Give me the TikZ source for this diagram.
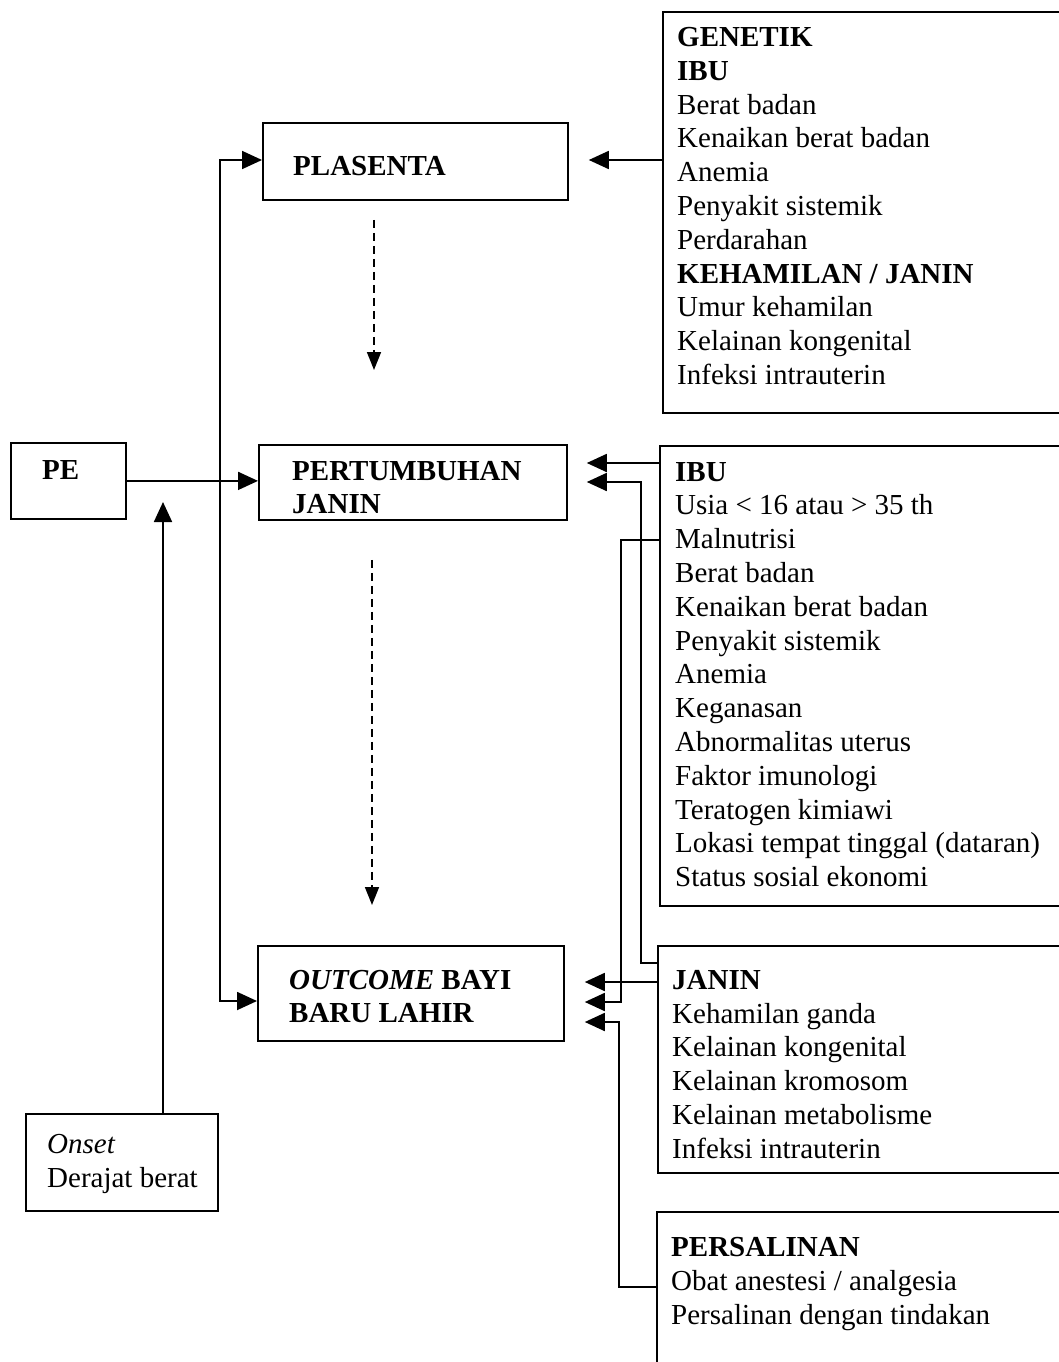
\documentclass[tikz,border=0pt]{standalone}
\usepackage{fontspec}
\setmainfont{Liberation Serif}
\usetikzlibrary{arrows.meta}
\begin{document}
\begin{tikzpicture}[x=1pt,y=-1pt,
  box/.style={draw, line width=1.8pt, rectangle, inner sep=0pt, anchor=north west},
  txt/.style={anchor=north west, inner sep=0pt, align=left, font=\fontsize{29}{33.8}\selectfont},
  arr/.style={line width=1.8pt, -{Triangle[length=20pt,width=18pt]}},
  dasharr/.style={line width=1.6pt, dash pattern=on 8pt off 5pt, -{Triangle[length=18pt,width=14pt]}},
  ln/.style={line width=1.8pt}]
\path[use as bounding box, fill=white] (0,0) rectangle (1059,1362);
\clip (0,0) rectangle (1059,1362);

% boxes
\node[box, minimum width=115pt, minimum height=76pt] (pe) at (10,442) {};
\node[box, minimum width=305pt, minimum height=77pt] (plasenta) at (262,122) {};
\node[box, minimum width=308pt, minimum height=75pt] (pertumbuhan) at (258,444) {};
\node[box, minimum width=306pt, minimum height=95pt] (outcome) at (257,945) {};
\node[box, minimum width=192pt, minimum height=97pt] (onset) at (25,1113) {};
\node[box, minimum width=430pt, minimum height=401pt] (genetik) at (662,11) {};
\node[box, minimum width=430pt, minimum height=460pt] (ibu) at (659,445) {};
\node[box, minimum width=430pt, minimum height=227pt] (janin) at (657,945) {};
\node[box, minimum width=430pt, minimum height=220pt] (persalinan) at (656,1211) {};

% texts
\node[txt] (peT) at (42,460) {\textbf{PE}};
\node[txt] (plasentaT) at (293,156) {\textbf{PLASENTA}};
\node[txt, font=\fontsize{29}{33}\selectfont] (pertumbuhanT) at (292,461) {\textbf{PERTUMBUHAN}\\\textbf{JANIN}};
\node[txt, font=\fontsize{29}{33}\selectfont] (outcomeT) at (289,970) {\textbf{\textit{OUTCOME} BAYI}\\\textbf{BARU LAHIR}};
\node[txt, font=\fontsize{29}{34}\selectfont] (onsetT) at (47,1134) {\textit{Onset}\\Derajat berat};
\node[txt] (genetikT) at (677,27) {\textbf{GENETIK}\\\textbf{IBU}\\Berat badan\\Kenaikan berat badan\\Anemia\\Penyakit sistemik\\Perdarahan\\\textbf{KEHAMILAN / JANIN}\\Umur kehamilan\\Kelainan kongenital\\Infeksi intrauterin};
\node[txt] (ibuT) at (675,462) {\textbf{IBU}\\Usia < 16 atau > 35 th\\Malnutrisi\\Berat badan\\Kenaikan berat badan\\Penyakit sistemik\\Anemia\\Keganasan\\Abnormalitas uterus\\Faktor imunologi\\Teratogen kimiawi\\Lokasi tempat tinggal (dataran)\\Status sosial ekonomi};
\node[txt] (janinT) at (672,970) {\textbf{JANIN}\\Kehamilan ganda\\Kelainan kongenital\\Kelainan kromosom\\Kelainan metabolisme\\Infeksi intrauterin};
\node[txt] (persalinanT) at (671,1237) {\textbf{PERSALINAN}\\Obat anestesi / analgesia\\Persalinan dengan tindakan};

% helper coordinates
\coordinate (yP) at (0,160);
\coordinate (yB) at (0,1001);
\coordinate (yG1) at (0,463);
\coordinate (yG2) at (0,482);
\coordinate (yI) at (0,540);
\coordinate (yJ) at (0,963);
\coordinate (yO1) at (0,982);
\coordinate (yO2) at (0,1002);
\coordinate (yO3) at (0,1022);
\coordinate (yS) at (0,1287);
\coordinate (xL) at (220,0);
\coordinate (xA) at (641,0);
\coordinate (xB) at (621,0);
\coordinate (xC) at (619,0);
\coordinate (xO) at (163,0);
\coordinate (tipO) at (163,502);
\coordinate (xd1) at (374,0);
\coordinate (xd2) at (372,0);

% left connectors
\draw[arr] (pe.east) -- (pertumbuhan.west |- pe.east);
\draw[arr] (xL |- yB) -- (xL |- yP) -- (plasenta.west |- yP);
\draw[arr] (xL |- yP) -- (xL |- yB) -- (outcome.west |- yB);
\draw[arr] (onset.north -| xO) -- (tipO);

% dashed
\draw[dasharr, shorten <=19pt, shorten >=74pt] (plasenta.south -| xd1) -- (pertumbuhan.north -| xd1);
\draw[dasharr, shorten <=39pt, shorten >=40pt] (pertumbuhan.south -| xd2) -- (outcome.north -| xd2);

% right connectors
\draw[arr, shorten >=20pt] (genetik.west |- yP) -- (plasenta.east |- yP);
\draw[arr, shorten >=19pt] (ibu.west |- yG1) -- (pertumbuhan.east |- yG1);
\draw[arr, shorten >=19pt] (janin.west |- yJ) -| (xA |- yG2) -- (pertumbuhan.east |- yG2);
\draw[arr, shorten >=20pt] (ibu.west |- yI) -| (xB |- yO2) -- (outcome.east |- yO2);
\draw[arr, shorten >=20pt] (janin.west |- yO1) -- (outcome.east |- yO1);
\draw[arr, shorten >=20pt] (persalinan.west |- yS) -| (xC |- yO3) -- (outcome.east |- yO3);
\end{tikzpicture}
\end{document}
